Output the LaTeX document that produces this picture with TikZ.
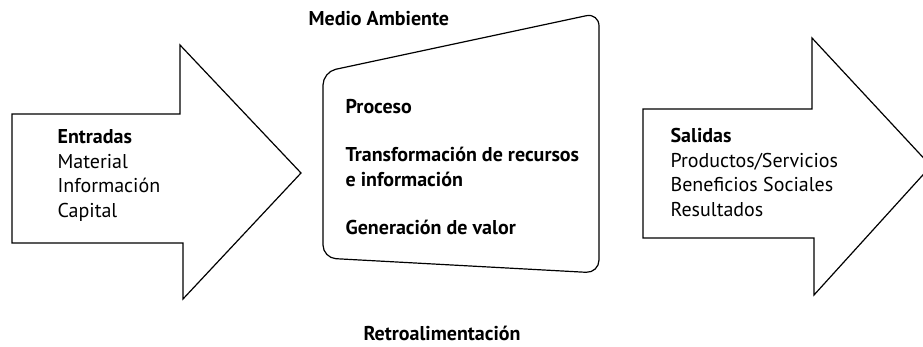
\documentclass[tikz,border=0pt]{standalone}
\usepackage{fontspec}
\setmainfont{PT Sans}
\begin{document}
\begin{tikzpicture}[x=1pt,y=-1pt,line width=1.2pt,
  txt/.style={inner sep=0pt,anchor=north west,align=left,
    font=\fontsize{20}{24.5}\selectfont},
  hdr/.style={txt,font=\fontsize{20}{24.5}\selectfont\bfseries}]
\useasboundingbox (0,0) rectangle (923,347);
\clip (0,0) rectangle (923,347);

% Inputs: block arrow on the left
\coordinate (InTail) at (12,114);
\coordinate (InTip) at (301,173);
\draw (InTail) -- (180,114) -- (180,45) -- (InTip)
  -- (183,299) -- (183,243) -- (12,243) -- cycle;
\node[txt] (Entradas) at (57,129) {\textbf{Entradas}\\Material\\Información\\Capital};

% The process box, tilted at the top
\coordinate (TL) at (323,72);
\coordinate (TR) at (599,13);
\coordinate (BR) at (599,273);
\coordinate (BL) at (323,258);
\draw[rounded corners=13pt] (TL) -- (TR) -- (BR) -- (BL) -- cycle;
\node[hdr] (Medio) at (308,11) {Medio Ambiente};
\node[hdr] (Proceso) at (345,99) {Proceso};
\node[hdr] (Transf) at (345,147) {Transformación de recursos\\e información};
\node[hdr] (Valor) at (345,220) {Generación de valor};
\node[hdr] (Retro) at (363,325) {Retroalimentación};

% Outputs: block arrow on the right, tip past the edge
\coordinate (OutTail) at (643,109);
\coordinate (OutTip) at (931,166);
\draw (OutTail) -- (812,109) -- (812,38) -- (OutTip)
  -- (814,295) -- (814,238) -- (643,238) -- cycle;
\node[txt] (Salidas) at (670,128) {\textbf{Salidas}\\Productos/Servicios\\Beneficios Sociales\\Resultados};

\end{tikzpicture}
\end{document}
